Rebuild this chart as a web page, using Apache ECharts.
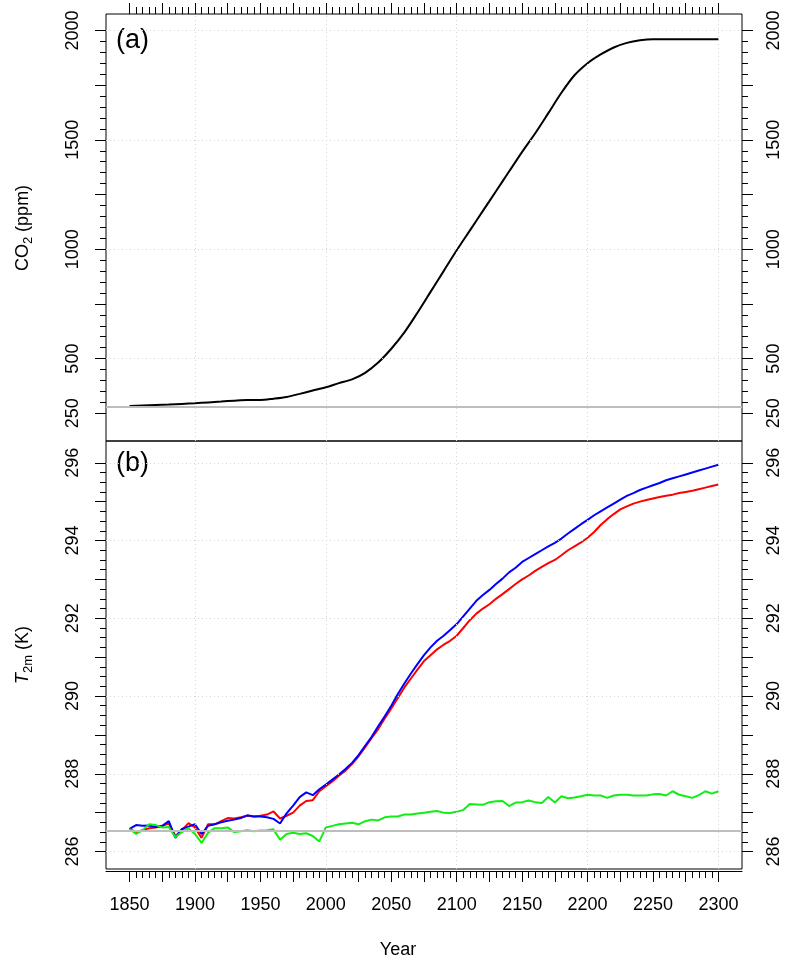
<!DOCTYPE html>
<html>
<head>
<meta charset="utf-8">
<script src="https://cdn.jsdelivr.net/npm/echarts@6/dist/echarts.min.js"></script>
<style>
  html, body { margin: 0; padding: 0; background: #fff; }
  #chart { width: 788px; height: 962px; }
</style>
</head>
<body>
<div id="chart"></div>
<script>
// ---- CO2 concentration (panel a) ----
const co2Years = [1850,1860,1870,1880,1890,1900,1910,1920,1930,1940,1950,1960,1970,1980,1990,
  2000,2010,2020,2030,2040,2050,2060,2070,2080,2090,2100,2110,2120,2130,2140,2150,2160,2170,
  2180,2190,2200,2210,2220,2230,2240,2250,2260,2270,2280,2290,2300];
const co2Ppm = [284,286,288,290,293,296,300,304,308,311,311,317,325,339,354,
  369,388,405,435,482,545,620,710,805,900,995,1085,1175,1265,1355,1445,1530,1622,
  1715,1795,1850,1890,1922,1943,1955,1960,1960,1960,1960,1960,1960];
const co2Reference = 282;

// ---- 2 m temperature (panel b) ----
const tYears = [1850,1855,1860,1865,1870,1875,1880,1885,1890,1895,1900,1905,1910,1915,1920,1925,
  1930,1935,1940,1945,1950,1955,1960,1965,1970,1975,1980,1985,1990,1995,2000,2005,2010,2015,
  2020,2025,2030,2035,2040,2045,2050,2055,2060,2065,2070,2075,2080,2085,2090,2095,2100,2105,
  2110,2115,2120,2125,2130,2135,2140,2145,2150,2155,2160,2165,2170,2175,2180,2185,2190,2195,
  2200,2205,2210,2215,2220,2225,2230,2235,2240,2245,2250,2255,2260,2265,2270,2275,2280,2285,
  2290,2295,2300];
const t2mRed = [286.58,286.50,286.55,286.60,286.62,286.66,286.72,286.40,286.55,286.73,286.62,286.35,
  286.70,286.70,286.78,286.86,286.85,286.88,286.92,286.90,286.92,286.95,287.03,286.85,286.92,287.00,
  287.18,287.30,287.32,287.55,287.68,287.80,287.95,288.08,288.25,288.45,288.68,288.92,289.15,289.42,
  289.68,289.95,290.22,290.45,290.68,290.90,291.05,291.20,291.32,291.42,291.55,291.75,291.95,292.12,
  292.25,292.36,292.50,292.62,292.75,292.88,293.00,293.10,293.22,293.32,293.42,293.50,293.62,293.75,
  293.85,293.95,294.07,294.22,294.40,294.55,294.68,294.80,294.88,294.95,295.00,295.04,295.08,295.12,
  295.15,295.18,295.22,295.25,295.28,295.32,295.36,295.40,295.44];
const t2mBlue = [286.58,286.68,286.66,286.67,286.63,286.66,286.78,286.35,286.58,286.64,286.70,286.45,
  286.66,286.70,286.75,286.79,286.82,286.86,286.93,286.90,286.90,286.88,286.84,286.72,286.98,287.18,
  287.40,287.52,287.45,287.60,287.72,287.85,287.98,288.12,288.28,288.48,288.72,288.95,289.22,289.48,
  289.75,290.05,290.32,290.58,290.82,291.05,291.25,291.42,291.55,291.70,291.85,292.05,292.25,292.45,
  292.60,292.73,292.88,293.02,293.18,293.30,293.45,293.55,293.65,293.75,293.85,293.94,294.05,294.18,
  294.30,294.42,294.53,294.65,294.75,294.85,294.95,295.05,295.15,295.22,295.30,295.36,295.42,295.48,
  295.55,295.60,295.65,295.70,295.75,295.80,295.85,295.90,295.95];
const t2mGreen = [286.58,286.45,286.55,286.70,286.68,286.62,286.63,286.37,286.50,286.60,286.45,286.22,
  286.48,286.60,286.60,286.62,286.50,286.52,286.55,286.52,286.54,286.55,286.57,286.30,286.45,286.48,
  286.45,286.47,286.40,286.26,286.62,286.66,286.70,286.72,286.74,286.70,286.78,286.82,286.80,286.88,
  286.90,286.90,286.95,286.95,286.98,287.00,287.02,287.04,287.00,286.99,287.02,287.07,287.22,287.21,
  287.20,287.27,287.29,287.30,287.17,287.26,287.27,287.31,287.27,287.25,287.40,287.26,287.42,287.37,
  287.39,287.42,287.46,287.44,287.44,287.38,287.44,287.46,287.46,287.44,287.44,287.44,287.47,287.48,
  287.44,287.55,287.46,287.42,287.38,287.45,287.55,287.49,287.55];
const t2mReference = 286.54;

// ---- tick positions and labels ----
function steps(from, to, by) {
  const out = [];
  for (let v = from; v <= to + 1e-9; v += by) out.push(Math.round(v * 1000) / 1000);
  return out;
}
const yearLabels = steps(1850, 2300, 50);
const yearMajorTicks = steps(1850, 2300, 25);
const yearMinorTicks = steps(1850, 2300, 5);
const yearGridLines = [1900, 2000, 2100, 2200, 2300];
const co2Labels = [250, 500, 1000, 1500, 2000];
const co2MajorTicks = steps(250, 2000, 250);
const co2MinorTicks = steps(250, 2000, 50);
const co2GridLines = [500, 1000, 1500, 2000];
const tLabels = steps(286, 296, 2);
const tMajorTicks = steps(286, 296, 1);
const tMinorTicks = steps(286, 296, 0.25);
const tGridLines = steps(286, 296, 2);

// ---- axis extents ----
const X_MIN = 1832, X_MAX = 2318;
const CO2_MIN = 123.5, CO2_MAX = 2075;
const T_MIN = 285.55, T_MAX = 296.56;

const FONT = '"Liberation Sans", Arial, Helvetica, sans-serif';
const INK = '#000';
const plain = v => String(v);

function xAxisDef(gridIndex, position, ticks, tickLen, labels, offset) {
  return {
    type: 'value', gridIndex, position, offset: offset || 0,
    min: X_MIN, max: X_MAX,
    axisLine: { show: position === 'bottom' && !!labels, lineStyle: { color: INK, width: 1 } },
    axisTick: { show: true, customValues: ticks, length: tickLen, lineStyle: { color: INK, width: 1 } },
    axisLabel: labels ? { show: true, customValues: labels, formatter: plain, fontFamily: FONT, fontSize: 18,
      color: INK, margin: 25 } : { show: false },
    splitLine: { show: false },
    minorSplitLine: { show: false }
  };
}
function yAxisDef(gridIndex, position, min, max, ticks, tickLen, labels) {
  return {
    type: 'value', gridIndex, position, min, max,
    axisLine: { show: false },
    axisTick: { show: true, customValues: ticks, length: tickLen, lineStyle: { color: INK, width: 1 } },
    axisLabel: labels ? { show: true, customValues: labels, formatter: plain, rotate: 90, fontFamily: FONT,
      fontSize: 18, color: INK, margin: position === 'left' ? 24 : 23.5 } : { show: false },
    splitLine: { show: false },
    minorSplitLine: { show: false }
  };
}

// dotted reference grid plus the solid grey baseline of each panel
function gridMarks(xs, ys, refValue) {
  const dotted = { color: '#d4d4d4', width: 1, type: [1, 3] };
  const data = [];
  xs.forEach(v => data.push({ xAxis: v, lineStyle: dotted }));
  ys.forEach(v => data.push({ yAxis: v, lineStyle: dotted }));
  data.push({ yAxis: refValue, lineStyle: { color: '#bdbdbd', width: 2, type: 'solid' } });
  return { silent: true, symbol: ['none', 'none'], label: { show: false }, emphasis: { disabled: true }, data };
}

const pairs = (xs, ys) => xs.map((x, i) => [x, ys[i]]);

const chart = echarts.init(document.getElementById('chart'), null, { renderer: 'canvas' });
chart.setOption({
  animation: false,
  backgroundColor: '#fff',
  grid: [
    { left: 106, right: 46, top: 14, height: 427, show: true, borderColor: INK, borderWidth: 1, backgroundColor: 'transparent' },
    { left: 106, right: 46, top: 441, height: 428, show: true, borderColor: INK, borderWidth: 1, backgroundColor: 'transparent' }
  ],
  xAxis: [
    xAxisDef(0, 'top', yearMajorTicks, 11),
    xAxisDef(0, 'top', yearMinorTicks, 7),
    xAxisDef(1, 'bottom', yearMajorTicks, 11, yearLabels, 2),
    xAxisDef(1, 'bottom', yearMinorTicks, 7, null, 2)
  ],
  yAxis: [
    yAxisDef(0, 'left', CO2_MIN, CO2_MAX, co2MajorTicks, 11, co2Labels),
    yAxisDef(0, 'left', CO2_MIN, CO2_MAX, co2MinorTicks, 6),
    yAxisDef(0, 'right', CO2_MIN, CO2_MAX, co2MajorTicks, 11, co2Labels),
    yAxisDef(0, 'right', CO2_MIN, CO2_MAX, co2MinorTicks, 6),
    yAxisDef(1, 'left', T_MIN, T_MAX, tMajorTicks, 11, tLabels),
    yAxisDef(1, 'left', T_MIN, T_MAX, tMinorTicks, 6),
    yAxisDef(1, 'right', T_MIN, T_MAX, tMajorTicks, 11, tLabels),
    yAxisDef(1, 'right', T_MIN, T_MAX, tMinorTicks, 6)
  ],
  series: [
    { type: 'line', xAxisIndex: 0, yAxisIndex: 0, data: [], z: 1,
      markLine: gridMarks(yearGridLines, co2GridLines, co2Reference) },
    { type: 'line', xAxisIndex: 2, yAxisIndex: 4, data: [], z: 1,
      markLine: gridMarks(yearGridLines, tGridLines, t2mReference) },
    { name: 'CO2', type: 'line', xAxisIndex: 0, yAxisIndex: 0, data: pairs(co2Years, co2Ppm),
      smooth: 0.3, showSymbol: false, z: 3,
      lineStyle: { color: '#000', width: 2 } },
    { name: 'red', type: 'line', xAxisIndex: 2, yAxisIndex: 4, data: pairs(tYears, t2mRed),
      showSymbol: false, z: 3, lineStyle: { color: '#ff0000', width: 2 } },
    { name: 'blue', type: 'line', xAxisIndex: 2, yAxisIndex: 4, data: pairs(tYears, t2mBlue),
      showSymbol: false, z: 3, lineStyle: { color: '#0000ff', width: 2 } },
    { name: 'green', type: 'line', xAxisIndex: 2, yAxisIndex: 4, data: pairs(tYears, t2mGreen),
      showSymbol: false, z: 3, lineStyle: { color: '#11ee11', width: 2 } }
  ],
  graphic: [
    { type: 'text', x: 116, y: 41, style: { text: '(a)', font: '27px ' + FONT, fill: INK, verticalAlign: 'middle' } },
    { type: 'text', x: 116, y: 464, style: { text: '(b)', font: '27px ' + FONT, fill: INK, verticalAlign: 'middle' } },
    { type: 'text', x: 23, y: 228, rotation: Math.PI / 2,
      style: {
        text: '{n|CO}{s|2}{n| (ppm)}', align: 'center', verticalAlign: 'middle',
        rich: {
          n: { fontFamily: FONT, fontSize: 18, lineHeight: 24, fill: INK, verticalAlign: 'middle' },
          s: { fontFamily: FONT, fontSize: 13, lineHeight: 14, fill: INK, verticalAlign: 'bottom' }
        }
      } },
    { type: 'text', x: 23, y: 655, rotation: Math.PI / 2,
      style: {
        text: '{i|T}{s|2m}{n| (K)}', align: 'center', verticalAlign: 'middle',
        rich: {
          i: { fontFamily: FONT, fontStyle: 'italic', fontSize: 18, lineHeight: 24, fill: INK, verticalAlign: 'middle' },
          n: { fontFamily: FONT, fontSize: 18, lineHeight: 24, fill: INK, verticalAlign: 'middle' },
          s: { fontFamily: FONT, fontSize: 13, lineHeight: 14, fill: INK, verticalAlign: 'bottom' }
        }
      } },
    { type: 'text', x: 398, y: 950,
      style: { text: 'Year', font: '18px ' + FONT, fill: INK, align: 'center', verticalAlign: 'middle' } }
  ]
});
</script>
</body>
</html>
